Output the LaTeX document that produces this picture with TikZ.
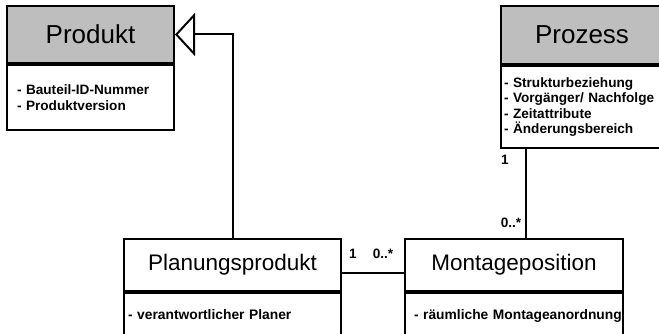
\documentclass[tikz,border=0pt]{standalone}
\usepackage{fontspec}
\setmainfont{Liberation Sans}
\usetikzlibrary{arrows.meta}
\definecolor{hdrgray}{RGB}{190,190,190}
\tikzset{
  classhead/.style={draw, fill=hdrgray, line width=2pt, anchor=north west,
    inner sep=0pt, font=\fontsize{26}{30}\selectfont},
  subhead/.style={classhead, fill=white, font=\fontsize{22.5}{27}\selectfont},
  classattr/.style={draw, fill=white, line width=2pt, anchor=north west,
    inner ysep=0pt, align=left, font=\bfseries\fontsize{13.6}{15.5}\selectfont},
  subattr/.style={classattr, font=\bfseries\fontsize{13.8}{16}\selectfont},
  mult/.style={font=\bfseries\fontsize{13.6}{15}\selectfont, inner sep=0pt},
  assoc/.style={line width=2pt},
  generalization/.style={line width=2pt, line join=miter,
    -{Triangle[open, length=20pt, width=43pt]}}
}
\begin{document}
\begin{tikzpicture}[x=1pt, y=-1pt]
\useasboundingbox (0,0) rectangle (659,334);
\clip (0,0) rectangle (659,334);

\node[classhead, minimum width=167, minimum height=57] (produkt) at (6,5) {Produkt};
\node[classattr, minimum height=65, text width=147, inner xsep=10pt] (produktattr) at (produkt.south west)
  {- Bauteil-ID-Nummer\\- Produktversion};

\node[classhead, minimum width=162, minimum height=58] (prozess) at (500,5) {Prozess};
\node[classattr, minimum height=82, text width=156, inner xsep=3pt] (prozessattr) at (prozess.south west)
  {- Strukturbeziehung\\- Vorgänger/ Nachfolge\\- Zeitattribute\\- Änderungsbereich};

\node[subhead, minimum width=217, minimum height=52] (planung) at (123,238) {Planungsprodukt};
\node[subattr, minimum height=46, text width=209, inner xsep=4pt] (planungattr) at (planung.south west)
  {\strut- verantwortlicher Planer};

\node[subhead, minimum width=218, minimum height=52] (montage) at (404,238) {Montageposition};
\node[subattr, minimum height=46, text width=200, inner xsep=9pt] (montageattr) at (montage.south west)
  {\strut\mbox{- räumliche Montageanordnung}};

\draw[generalization] (planung.north) |- (produkt.east);

\coordinate (assocy) at (0,273);
\draw[assoc] (planung.east |- assocy) -- (montage.west |- assocy);
\node[mult] (m1) at (353,254) {1};
\node[mult] (m2) at (383,254) {0..*};

\coordinate (assocx) at (526,0);
\draw[assoc] (prozessattr.south -| assocx) -- (montage.north -| assocx);
\node[mult] (m3) at (505,160) {1};
\node[mult] (m4) at (511,223) {0..*};
\end{tikzpicture}
\end{document}
